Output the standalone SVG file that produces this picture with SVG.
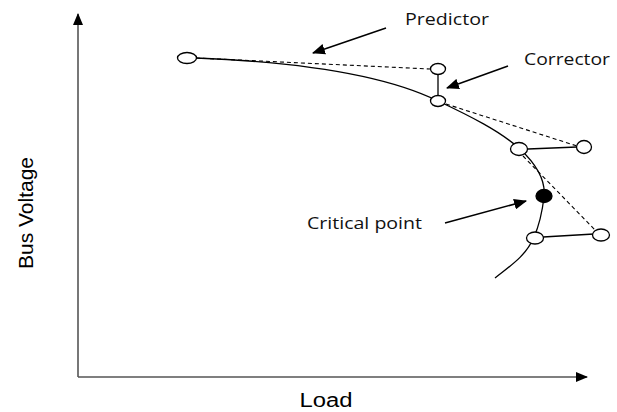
<svg xmlns="http://www.w3.org/2000/svg" width="617" height="412" viewBox="0 0 617 412">
  <defs>
    <marker id="tip" viewBox="0 0 12 10" refX="11" refY="5" markerWidth="13" markerHeight="11" markerUnits="userSpaceOnUse" orient="auto">
      <path d="M0,0 L12,5 L0,10 Z" fill="#000"/>
    </marker>
    <marker id="axisTip" viewBox="0 0 12 10" refX="11" refY="5" markerWidth="12" markerHeight="10" markerUnits="userSpaceOnUse" orient="auto">
      <path d="M0,0 L12,5 L0,10 Z" fill="#000"/>
    </marker>
  </defs>
  <style>
    .axis { stroke: #555; stroke-width: 1.6; fill: none; }
    .curve { stroke: #000; stroke-width: 1.3; fill: none; }
    .step { stroke: #000; stroke-width: 1.3; fill: none; }
    .dash { stroke: #000; stroke-width: 1.1; fill: none; stroke-dasharray: 4 3; }
    .pointer { stroke: #000; stroke-width: 1.5; fill: none; marker-end: url(#tip); }
    .pt { fill: #fff; stroke: #000; stroke-width: 1.3; }
    .crit { fill: #000; stroke: #000; stroke-width: 1.3; }
    .lbl { font-family: "Open Sans", "Noto Sans", sans-serif; font-size: 16px; fill: #111; }
    .axlbl { font-family: "Liberation Sans", Arial, sans-serif; font-size: 20px; fill: #000; }
  </style>

  <!-- axes -->
  <g id="axes">
    <path class="axis" d="M78,377 L78,14" marker-end="url(#axisTip)"/>
    <path class="axis" d="M78,377 L587,377" marker-end="url(#axisTip)"/>
    <text class="axlbl" x="326" y="407" text-anchor="middle" textLength="53" lengthAdjust="spacingAndGlyphs">Load</text>
    <text class="axlbl" x="0" y="0" text-anchor="middle" transform="translate(33,213) rotate(-90)" textLength="112" lengthAdjust="spacingAndGlyphs">Bus Voltage</text>
  </g>

  <!-- PV curve, predictor/corrector steps and pointers -->
  <g id="connectors">
    <path class="curve" d="M196,58 C300,62 385,75 438,101 C470,116 500,131 520,149 C536,164 546,180 544,197 C542,214 538,228 534,237 C526,256 510,266 495,278"/>
    <path class="dash" d="M196,58 L430,69"/>
    <path class="step" d="M438,75 L438,95"/>
    <path class="dash" d="M446,104 L577,146"/>
    <path class="step" d="M528,149 L577,147"/>
    <path class="dash" d="M523,156 L596,231"/>
    <path class="step" d="M543,237 L594,234"/>
    <path class="pointer" d="M386,28 L313,53"/>
    <path class="pointer" d="M508,66 L447,88"/>
    <path class="pointer" d="M445,223 L526,201"/>
  </g>

  <g id="p0"><ellipse class="pt" cx="187" cy="58" rx="9.5" ry="5.5"/></g>
  <g id="p1-pred"><ellipse class="pt" cx="438" cy="69" rx="7.5" ry="5.5"/></g>
  <g id="p1"><ellipse class="pt" cx="438" cy="101" rx="7.5" ry="5.5"/></g>
  <g id="p2-pred"><ellipse class="pt" cx="584" cy="147" rx="7.5" ry="6.5"/></g>
  <g id="p2"><ellipse class="pt" cx="519" cy="149" rx="8.5" ry="6.5"/></g>
  <g id="critical"><ellipse class="crit" cx="544" cy="196" rx="8" ry="6.5"/></g>
  <g id="p3"><ellipse class="pt" cx="535" cy="238" rx="8.5" ry="6"/></g>
  <g id="p3-pred"><ellipse class="pt" cx="601" cy="235" rx="8.5" ry="6"/></g>

  <g id="labels">
    <text class="lbl" x="405" y="25" textLength="84" lengthAdjust="spacingAndGlyphs">Predictor</text>
    <text class="lbl" x="524" y="65" textLength="86" lengthAdjust="spacingAndGlyphs">Corrector</text>
    <text class="lbl" x="307" y="229" textLength="115" lengthAdjust="spacingAndGlyphs">Critical point</text>
  </g>
</svg>
